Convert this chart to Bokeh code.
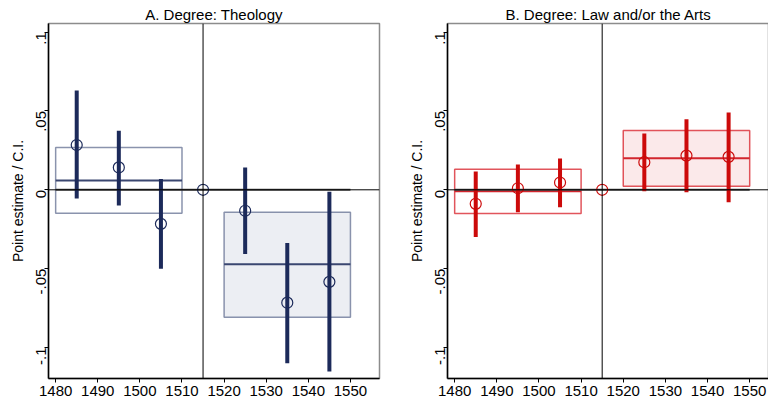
import math
from bokeh.plotting import figure
from bokeh.layouts import row
from bokeh.models import ColumnDataSource, Span, FixedTicker, Range1d
from bokeh.embed import file_html
from bokeh.resources import INLINE

# ---------------- data ----------------
years = [1485, 1495, 1505, 1515, 1525, 1535, 1545]

theo_est = [0.0284, 0.0142, -0.0216, 0.0, -0.0133, -0.0716, -0.0584]
theo_hi = [0.0630, 0.0375, 0.0068, 0.0, 0.0142, -0.0338, -0.0013]
theo_lo = [-0.0055, -0.0100, -0.0500, 0.0, -0.0408, -0.1100, -0.1153]

arts_est = [-0.0089, 0.0010, 0.0046, 0.0, 0.0175, 0.0217, 0.0209]
arts_hi = [0.0116, 0.0160, 0.0198, 0.0, 0.0357, 0.0447, 0.0490]
arts_lo = [-0.0300, -0.0142, -0.0110, 0.0, -0.0009, -0.0015, -0.0079]

# pooled period boxes: [before, after]
box_left = [1480, 1520]
box_right = [1510, 1550]
theo_box_top = [0.0269, -0.0142]
theo_box_bot = [-0.0148, -0.0808]
theo_box_mean = [0.0059, -0.0472]
arts_box_top = [0.0131, 0.0376]
arts_box_bot = [-0.0150, 0.0023]
arts_box_mean = [-0.0009, 0.0200]

x_ticks = [1480, 1490, 1500, 1510, 1520, 1530, 1540, 1550]
y_ticks = [0.1, 0.05, 0.0, -0.05, -0.1]
y_tick_labels = [".1", ".05", "0", "-.05", "-.1"]
reform_year = 1515

FONT = "Liberation Sans"


def make_panel(title, est, hi, lo, btop, bbot, bmean, main, box_line, box_fill_after,
               mean_color, frame_w, border_left, border_right, xmax):
    p = figure(frame_width=frame_w, frame_height=355, output_backend="svg",
               toolbar_location=None,
               x_range=Range1d(1478.3, xmax), y_range=Range1d(-0.1197, 0.1055),
               min_border_left=border_left, min_border_right=border_right,
               min_border_top=23, min_border_bottom=24)
    p.title.text = title
    p.title.align = "center"
    p.title.text_font = FONT
    p.title.text_font_size = "15px"
    p.title.text_font_style = "normal"
    p.title.text_color = "black"
    p.title.offset = 0
    p.title.standoff = 2

    p.xgrid.visible = False
    p.ygrid.visible = False
    p.outline_line_color = "#8c8c8c"
    p.outline_line_width = 1.5

    # boxes
    bsrc = ColumnDataSource(dict(left=box_left, right=box_right, top=btop, bottom=bbot,
                                 mean=bmean, fill=["white", box_fill_after]))
    p.quad(left="left", right="right", top="top", bottom="bottom", source=bsrc,
           fill_color="fill", line_color=box_line, line_width=1.5, line_alpha=0.8)
    p.segment(x0="left", x1="right", y0="mean", y1="mean", source=bsrc,
              line_color=mean_color, line_width=2)

    # zero reference lines
    p.add_layout(Span(location=0, dimension="width", line_color="black", line_width=1))
    p.segment(x0=[box_left[0]], x1=[box_right[1]], y0=[0], y1=[0],
              line_color="#4a4a4a", line_width=2)
    p.add_layout(Span(location=reform_year, dimension="height", line_color="black",
                      line_width=1))

    src = ColumnDataSource(dict(x=years, est=est, hi=hi, lo=lo))
    p.segment(x0="x", x1="x", y0="lo", y1="hi", source=src, line_color=main,
              line_width=4)
    p.scatter(x="x", y="est", source=src, marker="circle", size=11,
              fill_color=None, line_color=main, line_width=1.2)

    # axes
    p.xaxis.ticker = FixedTicker(ticks=x_ticks)
    p.yaxis.ticker = FixedTicker(ticks=y_ticks)
    p.yaxis.major_label_overrides = {t: l for t, l in zip(y_ticks, y_tick_labels)}
    p.yaxis.major_label_orientation = math.pi / 2
    p.yaxis.axis_label = "Point estimate / C.I."
    for ax in (p.xaxis[0], p.yaxis[0]):
        ax.axis_line_color = "black"
        ax.axis_line_width = 1.5
        ax.major_tick_line_color = "black"
        ax.major_tick_in = 0
        ax.major_tick_out = 4
        ax.minor_tick_line_color = None
        ax.major_label_text_font = FONT
        ax.major_label_text_font_size = "15px"
        ax.major_label_text_color = "black"
        ax.axis_label_text_font = FONT
        ax.axis_label_text_font_size = "14px"
        ax.axis_label_text_font_style = "normal"
        ax.axis_label_text_color = "black"
        ax.major_label_standoff = 3
        ax.axis_label_standoff = 3
    return p


pA = make_panel("A. Degree: Theology", theo_est, theo_hi, theo_lo,
                theo_box_top, theo_box_bot, theo_box_mean,
                "#1c2a5a", "#6d7898", "#eceef3", "#3a4670", 331, 48, 26, 1556.9)
pB = make_panel("B. Degree: Law and/or the Arts", arts_est, arts_hi, arts_lo,
                arts_box_top, arts_box_bot, arts_box_mean,
                "#cc0a0a", "#d92a33", "#fbe9ea", "#d2262e", 322, 40, 0, 1554.7)

layout = row(pA, pB, spacing=0)
open("out.html", "w").write(file_html(layout, INLINE))
